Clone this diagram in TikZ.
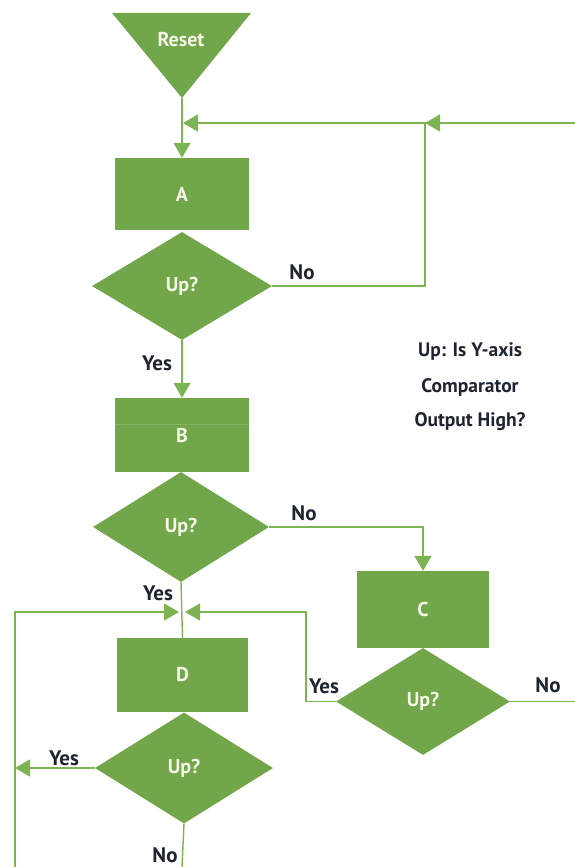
\documentclass[tikz,border=0pt]{standalone}
\usepackage{fontspec}
\setmainfont{PT Sans}
\usetikzlibrary{shapes.geometric,arrows.meta}
\definecolor{fillg}{RGB}{114,166,74}
\definecolor{lineg}{RGB}{124,180,84}
\definecolor{lab}{RGB}{30,36,48}
\definecolor{inner}{RGB}{246,246,232}
\begin{document}
\begin{tikzpicture}[x=1pt,y=-1pt,
  blk/.style={rectangle,fill=fillg,draw=none,inner sep=0,text=inner,font=\bfseries\fontsize{20}{24}\selectfont},
  dec/.style={diamond,fill=fillg,draw=none,inner sep=0,aspect=1.6,text=inner,font=\bfseries\fontsize{20}{24}\selectfont},
  conn/.style={draw=lineg,line width=1.4pt},
  arr/.style={conn,-{Triangle[length=15pt,width=17pt]}},
  lbl/.style={text=lab,font=\bfseries\fontsize{21}{24}\selectfont,inner sep=0},
  note/.style={text=lab,font=\bfseries\fontsize{19.5}{23}\selectfont,inner sep=0}]
\useasboundingbox (0,0) rectangle (575,867);
% Reset triangle
\fill[fillg] (112,13) -- (251,13) -- (182,98) -- cycle;
\node[text=inner,font=\bfseries\fontsize{20}{24}\selectfont,inner sep=0] (reset) at (181,40) {Reset};
\coordinate (rapex) at (182,98);
% blocks
\node[blk,minimum width=134pt,minimum height=72pt] (A) at (182,194) {A};
\node[dec,minimum width=180pt,minimum height=108pt] (d1) at (182,286) {Up?};
\node[blk,minimum width=134pt,minimum height=74pt] (B) at (182,435) {B};
\draw[fillg!85!white,line width=0.8pt] (B.west |- 0,424) -- (B.east |- 0,424);
\node[dec,minimum width=176pt,minimum height=110pt] (d2) at (181,527) {Up?};
\node[blk,minimum width=132pt,minimum height=77pt] (C) at (423,609.5) {C};
\node[dec,minimum width=174pt,minimum height=107pt] (d3) at (423,701.5) {Up?};
\node[blk,minimum width=131pt,minimum height=74pt] (D) at (182.5,675) {D};
\node[dec,minimum width=178pt,minimum height=111pt] (d4) at (184,768) {Up?};
% coordinates
\coordinate (j1) at (183,123);
\coordinate (j2) at (425,123);
\coordinate (rtop) at (575,123);
\coordinate (jL) at (179,612);
\coordinate (jR) at (185,612);
\coordinate (redge) at (575,701.5);
\coordinate (lbot) at (15,867);
\coordinate (lyes) at (15,768);
\coordinate (cbot) at (182,867);
% connectors
\draw[arr] (rapex) -- (A.north);
\draw[arr] (rtop) -- (j2);
\draw[arr] (d1.east) -| (j2) -- (j1);
\draw[arr] (d1.south) -- (B.north);
\draw[arr] (d2.east) -| (C.north);
\draw[conn] (d2.south) -- (D.north);
\draw[conn] (d3.east) -- (redge);
\draw[arr] (d3.west) -- ++(-30,0) |- (jR);
\draw[arr] (lbot) |- (jL);
\draw[arr] (d4.west) -- (lyes);
\draw[conn] (d4.south) -- (cbot);
% labels
\node[lbl] (no1) at (302,272) {No};
\node[lbl] (yes1) at (157,363) {Yes};
\node[lbl] (no2) at (304,513) {No};
\node[lbl] (yes2) at (158,593) {Yes};
\node[lbl] (yes3) at (324,686) {Yes};
\node[lbl] (no3) at (548,685) {No};
\node[lbl] (yes4) at (64,758) {Yes};
\node[lbl] (no4) at (165,855) {No};
% note
\node[note] (n1) at (470,352) {Up: Is Y-axis};
\node[note] (n2) at (470,387) {Comparator};
\node[note] (n3) at (470,422) {Output High?};
\end{tikzpicture}
\end{document}
